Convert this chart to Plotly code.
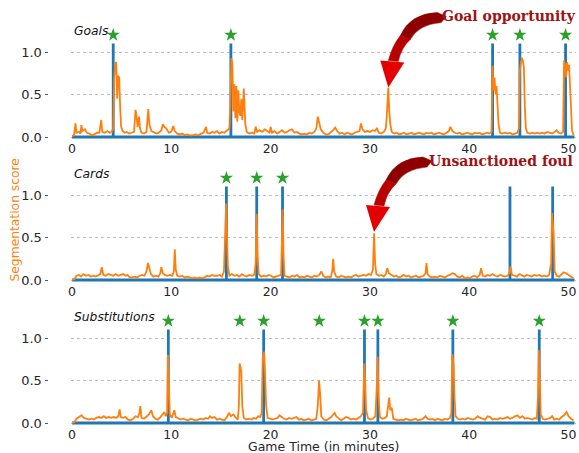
import plotly.graph_objects as go

# ---------------- data ----------------
goals_t = [0.0,0.2,0.35,0.45,0.7,0.85,0.95,1.05,1.3,1.5,1.75,2.0,2.25,2.5,2.75,2.95,3.05,3.3,3.55,3.8,4.0,4.15,4.25,4.35,4.45,4.5,4.55,4.65,4.75,4.85,4.95,5.1,5.3,5.5,5.75,6.0,6.25,6.4,6.5,6.6,6.75,6.85,7.0,7.25,7.5,7.68,7.8,8.0,8.25,8.5,8.75,9.0,9.15,9.3,9.5,9.75,10.0,10.2,10.35,10.6,10.85,11.1,11.35,11.6,11.85,12.1,12.4,12.7,13.0,13.25,13.5,13.6,13.85,14.1,14.35,14.6,14.85,15.1,15.35,15.6,15.85,15.95,16.05,16.15,16.25,16.35,16.45,16.55,16.65,16.75,16.85,16.95,17.05,17.15,17.3,17.45,17.6,17.85,18.1,18.35,18.5,18.65,18.9,19.15,19.4,19.65,19.9,20.0,20.15,20.4,20.65,20.9,21.15,21.4,21.65,21.9,22.15,22.4,22.65,22.9,23.15,23.4,23.65,23.9,24.15,24.4,24.6,24.75,24.9,25.05,25.3,25.55,25.8,26.05,26.3,26.5,26.7,26.95,27.2,27.45,27.7,27.95,28.2,28.45,28.7,28.95,29.1,29.25,29.5,29.75,30.0,30.25,30.5,30.7,30.9,31.15,31.4,31.6,31.7,31.85,31.95,32.05,32.2,32.45,32.7,32.95,33.2,33.45,33.7,33.95,34.2,34.45,34.7,34.95,35.2,35.45,35.7,35.95,36.2,36.45,36.7,36.95,37.2,37.45,37.7,37.95,38.1,38.3,38.55,38.8,39.05,39.3,39.55,39.8,40.05,40.3,40.55,40.8,41.05,41.3,41.55,41.8,42.05,42.25,42.35,42.45,42.55,42.65,42.75,42.85,42.95,43.1,43.35,43.6,43.85,44.1,44.35,44.6,44.85,45.0,45.1,45.2,45.3,45.4,45.5,45.6,45.7,45.85,46.1,46.35,46.6,46.85,47.1,47.35,47.6,47.85,48.1,48.35,48.6,48.8,49.0,49.25,49.45,49.55,49.65,49.75,49.85,49.95,50.05,50.15,50.25,50.35,50.5]
goals_v = [0.01,0.02,0.16,0.05,0.06,0.04,0.14,0.07,0.09,0.05,0.04,0.02,0.03,0.05,0.05,0.2,0.06,0.05,0.07,0.05,0.06,0.1,0.68,0.87,0.88,0.6,0.45,0.72,0.7,0.35,0.12,0.07,0.05,0.06,0.04,0.05,0.06,0.32,0.25,0.12,0.24,0.1,0.05,0.04,0.06,0.33,0.14,0.07,0.05,0.04,0.05,0.08,0.15,0.12,0.1,0.05,0.06,0.13,0.07,0.04,0.03,0.04,0.02,0.03,0.02,0.02,0.03,0.02,0.04,0.05,0.12,0.05,0.04,0.06,0.05,0.07,0.04,0.06,0.05,0.07,0.1,0.4,0.93,0.85,0.3,0.62,0.22,0.6,0.18,0.55,0.3,0.25,0.45,0.2,0.57,0.15,0.06,0.04,0.05,0.04,0.12,0.06,0.08,0.06,0.09,0.07,0.05,0.12,0.05,0.07,0.04,0.06,0.08,0.05,0.06,0.08,0.09,0.05,0.06,0.04,0.03,0.04,0.03,0.05,0.04,0.06,0.1,0.24,0.18,0.09,0.05,0.03,0.03,0.05,0.08,0.11,0.07,0.04,0.05,0.03,0.05,0.04,0.03,0.05,0.06,0.07,0.16,0.09,0.06,0.07,0.06,0.08,0.07,0.1,0.05,0.04,0.06,0.1,0.25,0.58,0.3,0.15,0.06,0.04,0.05,0.03,0.04,0.05,0.03,0.04,0.05,0.03,0.04,0.05,0.04,0.03,0.05,0.04,0.05,0.03,0.04,0.05,0.04,0.03,0.05,0.07,0.12,0.07,0.05,0.04,0.05,0.03,0.04,0.05,0.04,0.03,0.05,0.04,0.05,0.03,0.04,0.05,0.04,0.06,0.84,0.55,0.7,0.5,0.6,0.38,0.15,0.05,0.04,0.05,0.04,0.05,0.03,0.04,0.05,0.1,0.78,0.88,0.93,0.9,0.82,0.35,0.1,0.05,0.04,0.05,0.04,0.05,0.04,0.05,0.04,0.06,0.05,0.04,0.06,0.08,0.05,0.04,0.06,0.9,0.85,0.7,0.88,0.78,0.85,0.6,0.3,0.08,0.02]

cards_t = [0.0,0.25,0.45,0.7,0.9,1.15,1.4,1.65,1.9,2.15,2.4,2.65,2.85,3.0,3.15,3.4,3.65,3.9,4.15,4.4,4.65,4.9,5.15,5.4,5.6,5.8,6.05,6.3,6.55,6.8,7.05,7.3,7.5,7.65,7.8,7.95,8.2,8.45,8.7,8.9,9.0,9.15,9.35,9.6,9.85,10.1,10.25,10.35,10.45,10.6,10.85,11.1,11.35,11.6,11.85,12.1,12.35,12.6,12.85,13.1,13.35,13.6,13.85,14.1,14.35,14.6,14.85,15.1,15.3,15.42,15.52,15.6,15.7,15.85,16.1,16.35,16.6,16.85,17.1,17.35,17.6,17.85,18.1,18.35,18.5,18.6,18.68,18.8,19.05,19.3,19.55,19.8,20.05,20.3,20.55,20.8,21.05,21.15,21.22,21.3,21.4,21.65,21.9,22.15,22.4,22.65,22.9,23.15,23.4,23.65,23.9,24.15,24.4,24.65,24.9,25.1,25.3,25.55,25.8,26.05,26.2,26.3,26.4,26.6,26.85,27.1,27.35,27.6,27.85,28.1,28.35,28.6,28.85,29.1,29.35,29.6,29.85,30.1,30.3,30.42,30.52,30.65,30.9,31.15,31.4,31.6,31.74,31.9,32.15,32.4,32.65,32.9,33.15,33.4,33.65,33.9,34.15,34.4,34.65,34.9,35.15,35.4,35.6,35.7,35.8,36.05,36.3,36.55,36.8,37.05,37.3,37.55,37.8,38.05,38.3,38.55,38.8,39.05,39.3,39.55,39.8,40.05,40.3,40.55,40.8,41.05,41.2,41.35,41.6,41.85,42.1,42.35,42.6,42.85,43.1,43.35,43.6,43.85,44.05,44.15,44.3,44.55,44.8,45.05,45.3,45.55,45.8,46.05,46.3,46.55,46.8,47.05,47.3,47.55,47.8,48.05,48.25,48.33,48.42,48.5,48.6,48.8,49.05,49.3,49.5,49.75,50.0,50.25,50.5]
cards_v = [0.0,0.01,0.05,0.06,0.04,0.07,0.05,0.06,0.04,0.05,0.04,0.06,0.07,0.15,0.06,0.05,0.07,0.06,0.05,0.07,0.05,0.06,0.07,0.05,0.06,0.03,0.03,0.04,0.03,0.05,0.06,0.05,0.1,0.2,0.12,0.07,0.04,0.05,0.04,0.08,0.15,0.08,0.06,0.05,0.06,0.05,0.1,0.36,0.12,0.05,0.04,0.05,0.03,0.04,0.03,0.02,0.03,0.02,0.03,0.02,0.03,0.05,0.04,0.06,0.05,0.05,0.06,0.04,0.1,0.5,0.9,0.55,0.15,0.05,0.07,0.05,0.06,0.04,0.07,0.05,0.04,0.06,0.05,0.06,0.2,0.78,0.3,0.07,0.04,0.05,0.04,0.06,0.05,0.03,0.04,0.05,0.06,0.5,0.83,0.3,0.05,0.04,0.03,0.05,0.04,0.06,0.03,0.04,0.03,0.05,0.04,0.03,0.05,0.04,0.06,0.1,0.05,0.03,0.04,0.03,0.1,0.25,0.1,0.04,0.03,0.05,0.04,0.03,0.04,0.03,0.05,0.06,0.04,0.05,0.06,0.05,0.07,0.06,0.12,0.55,0.2,0.07,0.05,0.06,0.04,0.07,0.14,0.08,0.06,0.04,0.05,0.03,0.04,0.06,0.04,0.05,0.03,0.04,0.05,0.03,0.04,0.05,0.08,0.2,0.07,0.04,0.03,0.04,0.03,0.05,0.04,0.03,0.05,0.06,0.08,0.07,0.04,0.03,0.05,0.02,0.03,0.02,0.04,0.05,0.03,0.06,0.14,0.05,0.04,0.06,0.05,0.07,0.05,0.04,0.06,0.05,0.04,0.05,0.08,0.16,0.06,0.05,0.04,0.07,0.05,0.04,0.06,0.05,0.04,0.06,0.05,0.06,0.04,0.05,0.04,0.06,0.2,0.79,0.7,0.55,0.1,0.05,0.04,0.07,0.09,0.08,0.06,0.05,0.02]

subs_t = [0.0,0.25,0.45,0.7,0.95,1.2,1.45,1.7,1.95,2.2,2.45,2.7,2.95,3.2,3.45,3.7,3.95,4.2,4.45,4.65,4.8,4.9,5.15,5.4,5.65,5.9,6.15,6.4,6.65,6.8,6.88,7.0,7.25,7.5,7.75,7.99,8.15,8.4,8.65,8.9,9.1,9.3,9.45,9.58,9.66,9.75,9.85,10.05,10.3,10.45,10.7,10.95,11.2,11.45,11.7,11.95,12.2,12.45,12.7,12.95,13.2,13.45,13.7,13.9,14.1,14.35,14.6,14.85,15.1,15.35,15.6,15.8,16.0,16.25,16.5,16.7,16.8,16.88,16.98,17.05,17.15,17.3,17.55,17.8,18.05,18.3,18.55,18.75,18.95,19.1,19.2,19.35,19.45,19.55,19.7,19.95,20.2,20.45,20.7,20.9,21.1,21.35,21.6,21.85,22.1,22.35,22.6,22.85,23.1,23.35,23.6,23.85,24.1,24.35,24.6,24.75,24.88,24.98,25.1,25.35,25.6,25.85,26.1,26.3,26.45,26.6,26.85,27.1,27.35,27.6,27.85,28.1,28.35,28.6,28.85,29.1,29.3,29.43,29.52,29.62,29.8,30.05,30.3,30.55,30.7,30.78,30.87,31.0,31.25,31.5,31.7,31.85,31.94,32.05,32.2,32.35,32.6,32.85,33.1,33.35,33.6,33.85,34.1,34.35,34.6,34.85,35.1,35.35,35.6,35.8,36.05,36.3,36.55,36.8,37.05,37.3,37.55,37.8,38.05,38.2,38.3,38.42,38.52,38.62,38.85,39.1,39.35,39.6,39.85,40.1,40.35,40.6,40.85,41.1,41.35,41.6,41.85,42.1,42.35,42.6,42.85,43.1,43.35,43.6,43.85,44.1,44.35,44.6,44.85,45.1,45.35,45.6,45.85,46.1,46.35,46.6,46.8,46.92,47.0,47.08,47.2,47.4,47.65,47.9,48.15,48.35,48.55,48.8,49.05,49.3,49.55,49.8,50.0,50.25,50.5]
subs_v = [0.0,0.01,0.05,0.07,0.09,0.06,0.05,0.04,0.05,0.04,0.06,0.07,0.06,0.08,0.06,0.07,0.06,0.07,0.06,0.08,0.16,0.07,0.06,0.07,0.04,0.03,0.05,0.08,0.07,0.12,0.2,0.06,0.05,0.08,0.1,0.15,0.08,0.05,0.04,0.07,0.1,0.13,0.08,0.12,0.8,0.45,0.1,0.06,0.15,0.07,0.05,0.04,0.05,0.04,0.03,0.05,0.04,0.03,0.04,0.05,0.04,0.06,0.05,0.08,0.06,0.07,0.04,0.05,0.04,0.03,0.07,0.12,0.08,0.1,0.06,0.04,0.2,0.7,0.65,0.6,0.2,0.06,0.04,0.05,0.04,0.06,0.05,0.08,0.07,0.12,0.75,0.84,0.55,0.2,0.06,0.05,0.04,0.05,0.06,0.09,0.07,0.05,0.04,0.06,0.05,0.06,0.07,0.04,0.05,0.03,0.04,0.05,0.03,0.04,0.05,0.2,0.5,0.35,0.08,0.04,0.03,0.05,0.07,0.1,0.12,0.08,0.05,0.03,0.05,0.07,0.06,0.04,0.05,0.04,0.06,0.08,0.12,0.7,0.5,0.15,0.06,0.04,0.05,0.08,0.45,0.78,0.3,0.07,0.05,0.06,0.08,0.22,0.3,0.15,0.18,0.05,0.04,0.03,0.04,0.03,0.05,0.04,0.03,0.04,0.05,0.03,0.04,0.05,0.08,0.05,0.04,0.05,0.03,0.05,0.04,0.03,0.05,0.04,0.06,0.12,0.81,0.7,0.3,0.08,0.05,0.04,0.05,0.04,0.06,0.05,0.04,0.05,0.08,0.06,0.05,0.04,0.08,0.07,0.04,0.05,0.04,0.06,0.05,0.06,0.07,0.05,0.06,0.08,0.09,0.06,0.08,0.05,0.06,0.05,0.04,0.06,0.05,0.3,0.86,0.6,0.1,0.05,0.04,0.05,0.06,0.08,0.04,0.05,0.04,0.07,0.09,0.13,0.08,0.05,0.03]

goals_events = [4.15, 16.0, 42.35, 45.1, 49.7]
goals_stars = [4.15, 16.0, 42.35, 45.1, 49.7]
cards_events = [15.55, 18.6, 21.2, 44.1, 48.4]
cards_stars = [15.55, 18.6, 21.2]
subs_events = [9.7, 19.3, 29.45, 30.8, 38.35, 47.05]
subs_stars = [9.7, 16.9, 19.3, 24.9, 29.45, 30.8, 38.35, 47.05]

panel_names = ["Goals", "Cards", "Substitutions"]
x_ticks = [0, 10, 20, 30, 40, 50]
y_ticks = [0.0, 0.5, 1.0]
y_ticktext = ["0.0", "0.5", "1.0"]
gt_height = 1.1
star_height = 1.2
x_end = 50.6

# ---------------- layout geometry ----------------
W, H = 579, 453
ML, MR, MT, MB = 40, 3, 26, 27
PW, PH = W - ML - MR, H - MT - MB

def px_x(p):
    return (p - ML) / PW

def px_y(p):
    return (H - MB - p) / PH

UNIT = 85.0
YR = [-0.03, 1.3]
zero_px = [137, 280, 423]
x_dom = [px_x(71), 1.0]
yaxis_pos = px_x(47.5)

BLUE = "#1f77b4"
ORANGE = "#ff7f0e"
GREEN = "#2ca02c"
TXT = "#262626"

fig = go.Figure()

panels = [
    (goals_t, goals_v, goals_events, goals_stars),
    (cards_t, cards_v, cards_events, cards_stars),
    (subs_t, subs_v, subs_events, subs_stars),
]

for i, (tt, vv, ev, st) in enumerate(panels):
    xa = "x" if i == 0 else f"x{i+1}"
    ya = "y" if i == 0 else f"y{i+1}"
    # ground-truth signal
    gx, gy = [0.0], [0.0]
    for e in ev:
        gx += [e, e, e]
        gy += [0.0, gt_height, 0.0]
    gx.append(x_end)
    gy.append(0.0)
    fig.add_trace(go.Scatter(x=gx, y=gy, mode="lines", line=dict(color=BLUE, width=2.8),
                             xaxis=xa, yaxis=ya, showlegend=False, hoverinfo="skip"))
    fig.add_trace(go.Scatter(x=tt, y=vv, mode="lines", line=dict(color=ORANGE, width=1.8),
                             xaxis=xa, yaxis=ya, showlegend=False))
    fig.add_trace(go.Scatter(x=st, y=[star_height] * len(st), mode="markers",
                             marker=dict(symbol="star", size=10, color=GREEN, line=dict(width=0)),
                             xaxis=xa, yaxis=ya, showlegend=False))

    z = zero_px[i]
    bottom = z - YR[0] * UNIT
    top = z - YR[1] * UNIT
    dom = [max(0.0, px_y(bottom)), min(1.0, px_y(top))]
    xkey = "xaxis" if i == 0 else f"xaxis{i+1}"
    ykey = "yaxis" if i == 0 else f"yaxis{i+1}"
    fig.layout[xkey] = dict(domain=x_dom, range=[-0.1, 50.75], anchor=ya,
                            tickvals=x_ticks, ticks="", showline=False, showgrid=False,
                            zeroline=False, automargin=False,
                            tickfont=dict(family="DejaVu Sans", size=12.5, color=TXT))
    fig.layout[ykey] = dict(domain=dom, range=YR, anchor="free", position=yaxis_pos,
                            tickvals=y_ticks, ticktext=y_ticktext, ticks="outside", ticklen=3,
                            tickcolor="#555555", tickwidth=1, showline=False, zeroline=False,
                            showgrid=True, gridcolor="#bdbdbd", griddash="dot", gridwidth=0.8,
                            automargin=False,
                            tickfont=dict(family="DejaVu Sans", size=13, color=TXT))
    fig.add_annotation(x=0, y=1.25, xref=xa, yref=ya, text=panel_names[i], showarrow=False,
                       xanchor="left", yanchor="middle",
                       font=dict(family="DejaVu Sans", size=12.3, color="#111111", style="italic"))

# axis titles
fig.add_annotation(x=px_x(323.5), y=px_y(446.5), xref="paper", yref="paper",
                   text="Game Time (in minutes)", showarrow=False, xanchor="center", yanchor="middle",
                   font=dict(family="DejaVu Sans", size=12.5, color=TXT))
fig.add_annotation(x=px_x(14.5), y=px_y(220), xref="paper", yref="paper",
                   text="Segmentation score", showarrow=False, textangle=-90,
                   xanchor="center", yanchor="middle",
                   font=dict(family="DejaVu Sans", size=12.3, color=ORANGE))

# curved callout arrows (shape relative to tip, in pixels)
tail_rel = [("M", 49, -75), ("Q", 22, -74, 12, -52), ("L", 22, -48), ("Q", 30, -63, 53, -65), ("L", 58, -71)]
body_rel = [("M", 12, -52), ("Q", 4, -42, 0, -27), ("L", 10, -26), ("Q", 13, -40, 22, -48)]
head_rel = [(-8, -27), (0, 0), (16, -25)]

def path_from(tip, cmds):
    tx, ty = tip
    parts = []
    for c in cmds:
        op, nums = c[0], c[1:]
        pts = []
        for k in range(0, len(nums), 2):
            pts.append(f"{px_x(tx + nums[k]):.5f},{px_y(ty + nums[k+1]):.5f}")
        parts.append(op + " " + " ".join(pts))
    return " ".join(parts) + " Z"

def head_path(tip):
    tx, ty = tip
    pts = [f"{px_x(tx + a):.5f},{px_y(ty + b):.5f}" for a, b in head_rel]
    return "M " + " L ".join(pts) + " Z"

callouts = [
    ("Goal opportunity", (388.3, 87.5), (440, 16)),
    ("Unsanctioned foul", (374, 232), (427, 161)),
]
for label, tip, tpos in callouts:
    fig.add_shape(type="path", path=path_from(tip, tail_rel), xref="paper", yref="paper",
                  fillcolor="#8e0000", line=dict(color="#8e0000", width=0.5), layer="above")
    fig.add_shape(type="path", path=path_from(tip, body_rel), xref="paper", yref="paper",
                  fillcolor="#b80000", line=dict(color="#b80000", width=0.5), layer="above")
    fig.add_shape(type="path", path=head_path(tip), xref="paper", yref="paper",
                  fillcolor="#e40000", line=dict(width=0), layer="above")
    fig.add_annotation(x=px_x(tpos[0]), y=px_y(tpos[1]), xref="paper", yref="paper",
                       text="<b>" + label + "</b>", showarrow=False, xanchor="left", yanchor="middle",
                       font=dict(family="DejaVu Serif", size=14, color="#a01212"))

fig.update_layout(width=W, height=H, margin=dict(l=ML, r=MR, t=MT, b=MB, autoexpand=False),
                  paper_bgcolor="white", plot_bgcolor="white", showlegend=False)

fig.write_html("out.html", config={"displayModeBar": False},
               post_script="document.body.style.margin='0px';document.body.style.padding='0px';")
